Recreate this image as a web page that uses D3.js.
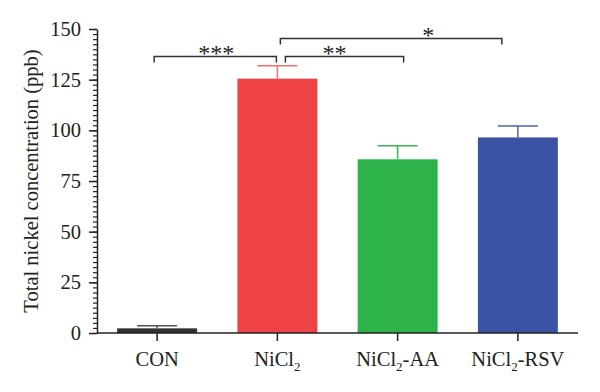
<!DOCTYPE html>
<html><head><meta charset="utf-8">
<script src="https://cdn.jsdelivr.net/npm/d3@7"></script>
<style>body{margin:0;background:#fff}svg{display:block}text{font-family:"Liberation Serif","DejaVu Serif",serif;fill:#222}</style>
</head><body><svg id="c" width="600" height="392"></svg>
<script>
const categories = ["CON", "NiCl2", "NiCl2-AA", "NiCl2-RSV"];
const labelMain = ["CON", "NiCl", "NiCl", "NiCl"];
const labelSub = ["", "2", "2", "2"];
const labelTail = ["", "", "-AA", "-RSV"];
const means = [2.3, 125.5, 85.7, 96.5];
const errors = [1.3, 6.4, 6.7, 5.6];
const barColors = ["#333333", "#ef4245", "#2db34a", "#3a53a4"];
const errColors = ["#555555", "#f2706a", "#39b653", "#4c63ae"];
const yTicks = [0, 25, 50, 75, 100, 125, 150];
const yTitle = "Total nickel concentration (ppb)";
// significance brackets: from, to (category index), level (value), label, end offsets
const sigFrom = [0, 1, 1];
const sigTo = [1, 2, 3];
const sigLevel = [136.4, 136.4, 145.3];
const sigLabel = ["***", "**", "*"];
const sigOffFrom = [-3, 8, 3];
const sigOffTo = [-1, 6, -16];
const sigLabelOff = [1, -10, 37];

const svg = d3.select("#c");
const x = d3.scaleBand().domain(categories).range([97, 578]).paddingInner(0.335).paddingOuter(0.1675);
const y = d3.scaleLinear().domain([0, 150]).range([333, 29]);

// bars
svg.selectAll("rect.bar").data(categories).join("rect")
  .attr("x", d => x(d)).attr("width", x.bandwidth())
  .attr("y", (d,i) => y(means[i])).attr("height", (d,i) => y(0) - y(means[i]))
  .attr("fill", (d,i) => barColors[i]);

// error bars
const cx = d => x(d) + x.bandwidth()/2;
svg.selectAll("line.ev").data(categories).join("line")
  .attr("x1", cx).attr("x2", cx)
  .attr("y1", (d,i) => y(means[i])).attr("y2", (d,i) => y(means[i] + errors[i]))
  .attr("stroke", (d,i) => errColors[i]).attr("stroke-width", 1.5);
svg.selectAll("line.ec").data(categories).join("line")
  .attr("x1", d => cx(d) - x.bandwidth()/4).attr("x2", d => cx(d) + x.bandwidth()/4)
  .attr("y1", (d,i) => y(means[i] + errors[i])).attr("y2", (d,i) => y(means[i] + errors[i]))
  .attr("stroke", (d,i) => errColors[i]).attr("stroke-width", 1.5);

// y axis with minor ticks
const minor = d3.range(0, 150.01, 2.5);
const yMinor = svg.append("g").attr("transform", "translate(97,0)")
  .call(d3.axisLeft(y).tickValues(minor).tickSize(4).tickFormat(""));
yMinor.select(".domain").remove();
yMinor.selectAll("line").attr("stroke", "#222").attr("stroke-width", 1.2);
const yAx = svg.append("g").attr("transform", "translate(97,0)")
  .call(d3.axisLeft(y).tickValues(yTicks).tickSize(8).tickSizeOuter(0).tickPadding(8));
yAx.select(".domain").attr("stroke", "#222").attr("stroke-width", 1.5);
yAx.selectAll(".tick line").attr("stroke", "#222").attr("stroke-width", 1.5);
yAx.selectAll(".tick text").attr("font-size", 20.5).attr("font-family", "Liberation Serif").attr("fill", "#222");

// x axis
const xAx = svg.append("g").attr("transform", "translate(0,333)")
  .call(d3.axisBottom(x).tickSize(8).tickSizeOuter(0).tickFormat(""));
xAx.select(".domain").attr("stroke", "#222").attr("stroke-width", 1.5).attr("d", "M97,0H578");
xAx.selectAll(".tick line").attr("stroke", "#222").attr("stroke-width", 1.5);

const xl = svg.append("g").selectAll("text").data(categories).join("text")
  .attr("x", cx).attr("y", 366).attr("text-anchor", "middle").attr("font-size", 20.5);
xl.append("tspan").text((d,i) => labelMain[i]);
xl.append("tspan").attr("dy", 5).attr("font-size", 13).text((d,i) => labelSub[i]);
xl.append("tspan").attr("dy", -5).text((d,i) => labelTail[i]);

// y title
svg.append("text").attr("transform", `translate(38,${(y(0)+y(150))/2}) rotate(-90)`)
  .attr("text-anchor", "middle").attr("font-size", 20.5).text(yTitle);

// significance brackets
sigLabel.forEach((lab, i) => {
  const x1 = cx(categories[sigFrom[i]]) + sigOffFrom[i];
  const x2 = cx(categories[sigTo[i]]) + sigOffTo[i];
  const yy = y(sigLevel[i]);
  svg.append("path").attr("d", `M${x1},${yy+6}V${yy}H${x2}V${yy+6}`)
    .attr("fill", "none").attr("stroke", "#333").attr("stroke-width", 1.5);
  svg.append("text").attr("x", (x1+x2)/2 + sigLabelOff[i]).attr("y", yy + 4)
    .attr("text-anchor", "middle").attr("font-size", 24).attr("font-family", "Liberation Sans")
    .attr("fill", "#333").text(lab);
});
</script></body></html>
